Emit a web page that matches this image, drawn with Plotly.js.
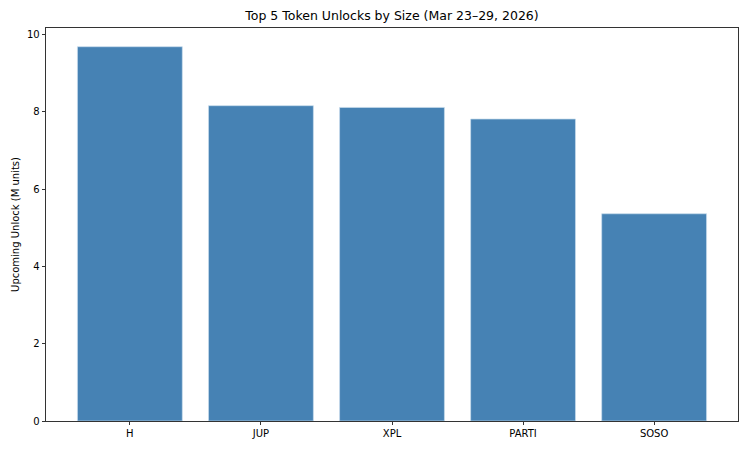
<!DOCTYPE html>
<html><head><meta charset="utf-8">
<script src="https://cdn.plot.ly/plotly-3.0.1.min.js"></script>
<style>html,body{margin:0;padding:0;background:#fff}#chart{width:750px;height:450px}</style>
</head><body><div id="chart"></div>
<script>
const tokens = ["H", "JUP", "XPL", "PARTI", "SOSO"];
const unlocks = [9.68, 8.155, 8.11, 7.81, 5.36];
const yTicks = [0, 2, 4, 6, 8, 10];

const trace = {
  type: "bar",
  x: tokens.map((_, i) => i),
  y: unlocks,
  width: 0.8,
  marker: {color: "#4682B4", line: {color: "#c8dcec", width: 0.7}},
  hoverinfo: "x+y"
};
const layout = {
  width: 750, height: 450,
  margin: {l: 46, r: 12, t: 28, b: 29},
  paper_bgcolor: "#fff", plot_bgcolor: "#fff",
  font: {family: "DejaVu Sans", size: 10, color: "#000"},
  title: {text: "Top 5 Token Unlocks by Size (Mar 23–29, 2026)", font: {size: 12.5, family: "DejaVu Sans"}, x: 0.5, xref: "paper", xanchor: "center", y: 0.976, yanchor: "top"},
  bargap: 0,
  showlegend: false,
  xaxis: {
    range: [-0.64, 4.64],
    tickmode: "array", tickvals: tokens.map((_, i) => i), ticktext: tokens,
    ticks: "outside", ticklen: 3.5, tickcolor: "#000", tickwidth: 0.8,
    showline: true, linecolor: "#000", linewidth: 0.8, mirror: true,
    showgrid: false, zeroline: false, fixedrange: true
  },
  yaxis: {
    range: [0, 10.164],
    tickmode: "array", tickvals: yTicks,
    ticks: "outside", ticklen: 3.5, tickcolor: "#000", tickwidth: 0.8,
    showline: true, linecolor: "#000", linewidth: 0.8, mirror: true,
    showgrid: false, zeroline: false, fixedrange: true,
    title: {text: "Upcoming Unlock (M units)", font: {size: 10}, standoff: 5}
  }
};
Plotly.newPlot("chart", [trace], layout, {displayModeBar: false, staticPlot: true});
</script></body></html>
